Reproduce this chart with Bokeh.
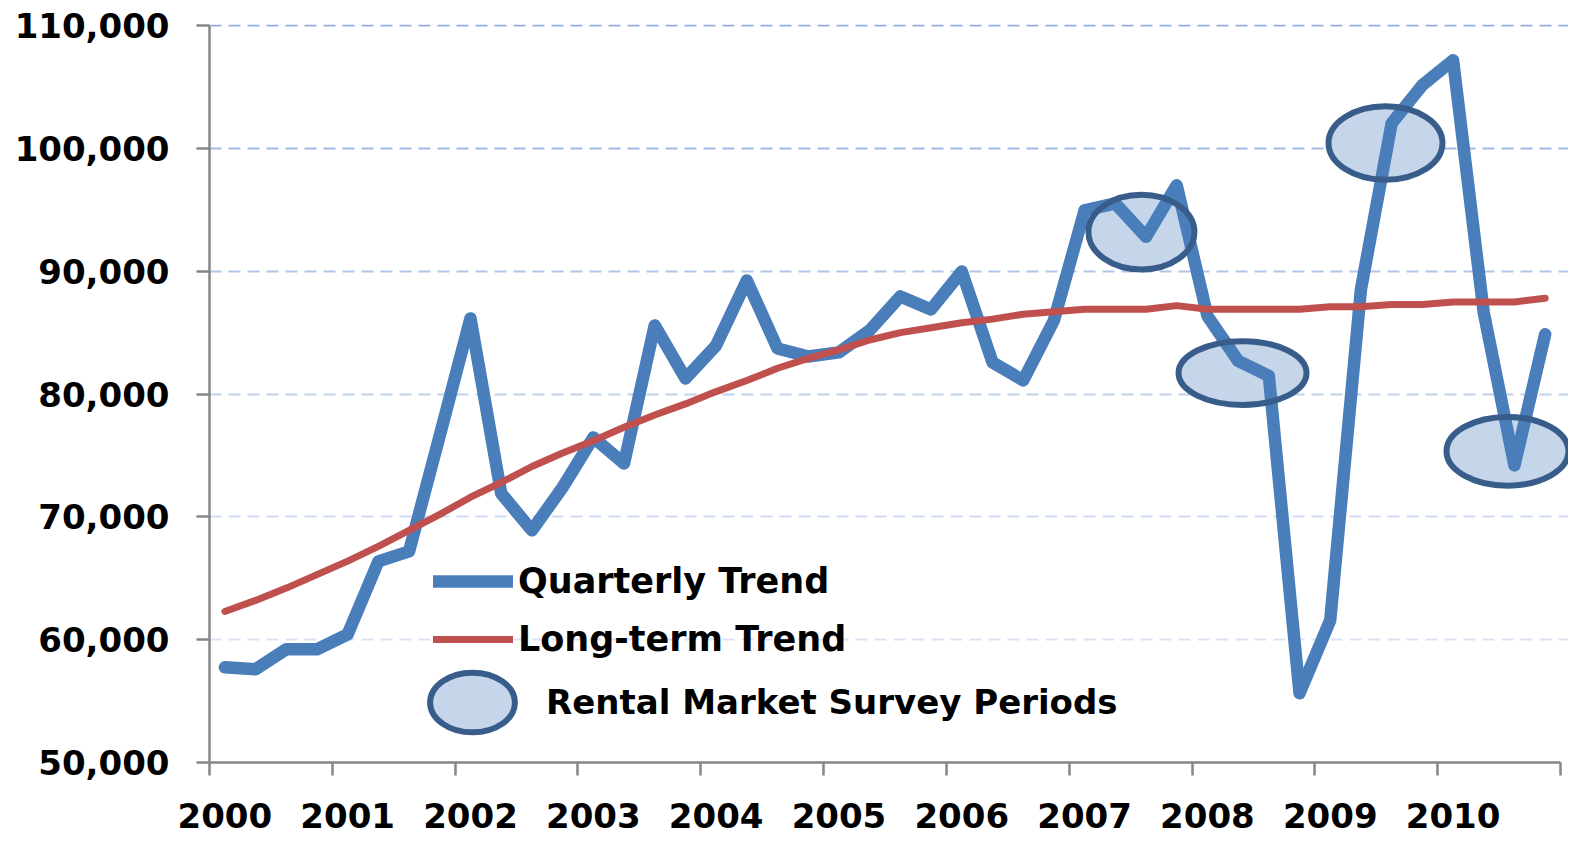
from bokeh.plotting import figure
from bokeh.models import (Range1d, FixedTicker, NumeralTickFormatter, Grid,
                          Legend, LegendItem)
from bokeh.embed import file_html
from bokeh.resources import INLINE

# ---------------- data ----------------
years = list(range(2000, 2011))
quarter_x = [y + q * 0.25 for y in range(2000, 2011) for q in range(4)]

quarterly = [57750, 57590, 59220, 59220, 60440, 66380, 67190, 76630,
             86160, 71910, 68900, 72400, 76470, 74350, 85590, 81270,
             83960, 89250, 83710, 83060, 83390, 85180, 87950, 86890,
             89980, 82580, 81110, 85990, 94950, 95520, 92800, 97000,
             86360, 82700, 81490, 55640, 61580, 88520, 102040, 105150,
             107180, 86630, 74190, 84870]

long_term = [62300, 63200, 64200, 65300, 66400, 67600, 68900, 70200,
             71600, 72800, 74100, 75200, 76200, 77300, 78300, 79200,
             80200, 81100, 82100, 82900, 83600, 84400, 85000, 85400,
             85800, 86100, 86500, 86700, 86900, 86900, 86900, 87200,
             86900, 86900, 86900, 86900, 87100, 87100, 87300, 87300,
             87500, 87500, 87500, 87800]

# survey period ellipses (x in years, y in values)
survey_x = [2007.463, 2008.286, 2009.450, 2010.443]
survey_y = [93190, 81710, 100440, 75340]
survey_w = [0.863, 1.042, 0.928, 0.993]
survey_h = [6080, 5190, 6000, 5600]

y_ticks = [50000, 60000, 70000, 80000, 90000, 100000, 110000]
grid_values = [110000, 100000, 90000, 80000, 70000, 60000]
grid_colors = ["#93afe2", "#a0b9e6", "#b0c5ea", "#c0d1ef", "#cfdbf3", "#d9e3f6"]

BLUE = "#4a7ebb"
RED = "#c0504d"
ELL_LINE = "#385d8a"
ELL_FILL = "#c5d5ea"
AXIS = "#868686"
FONT = "DejaVu Sans"

x_start = years[0] - 0.125
x_axis_end = years[-1] + 0.875

p = figure(width=1568, height=838, output_backend="svg", toolbar_location=None,
           x_range=Range1d(x_start, 2010.940), y_range=Range1d(50000, 110090),
           min_border_left=209, min_border_right=0, min_border_top=24,
           min_border_bottom=76)
p.outline_line_color = None
p.background_fill_color = "white"
p.border_fill_color = "white"
p.xgrid.visible = False
p.ygrid.visible = False

for v, c in zip(grid_values, grid_colors):
    g = Grid(dimension=1, ticker=FixedTicker(ticks=[v]), grid_line_color=c,
             grid_line_width=2, grid_line_dash="12 7")
    p.add_layout(g)

# ---------------- axes ----------------
xa = p.xaxis[0]
xa.ticker = FixedTicker(ticks=years,
                        minor_ticks=[y - 0.125 for y in years] + [x_axis_end])
xa.bounds = (x_start, x_axis_end)
xa.axis_line_color = AXIS
xa.axis_line_width = 2.5
xa.major_tick_out = 0
xa.major_tick_in = 0
xa.major_tick_line_color = None
xa.minor_tick_out = 13
xa.minor_tick_in = 0
xa.minor_tick_line_color = AXIS
xa.minor_tick_line_width = 2.5
xa.major_label_standoff = 27
xa.major_label_text_font = FONT
xa.major_label_text_font_style = "bold"
xa.major_label_text_font_size = "34px"
xa.major_label_text_color = "black"
xa.formatter = NumeralTickFormatter(format="0")

ya = p.yaxis[0]
ya.ticker = FixedTicker(ticks=y_ticks)
ya.formatter = NumeralTickFormatter(format="0,0")
ya.bounds = (50000, 110000)
ya.axis_line_color = AXIS
ya.axis_line_width = 2.5
ya.major_tick_out = 13
ya.major_tick_in = 0
ya.major_tick_line_color = AXIS
ya.major_tick_line_width = 2.5
ya.minor_tick_line_color = None
ya.major_label_standoff = 27
ya.major_label_text_font = FONT
ya.major_label_text_font_style = "bold"
ya.major_label_text_font_size = "34px"
ya.major_label_text_color = "black"

# ---------------- glyphs ----------------
ell_fill = p.ellipse(x=survey_x, y=survey_y, width=survey_w, height=survey_h,
                     fill_color=ELL_FILL, line_color=None)
blue_r = p.line(quarter_x, quarterly, line_color=BLUE, line_width=12.5,
                line_join="round", line_cap="round")
red_r = p.line(quarter_x, long_term, line_color=RED, line_width=7,
               line_join="round", line_cap="round")
ell_line = p.ellipse(x=survey_x, y=survey_y, width=survey_w, height=survey_h,
                     fill_color=None, line_color=ELL_LINE, line_width=6)

# ---------------- legends ----------------
leg1 = Legend(items=[LegendItem(label="Quarterly Trend", renderers=[blue_r]),
                     LegendItem(label="Long-term Trend", renderers=[red_r])],
              location=(224, 103), orientation="vertical",
              glyph_width=80, glyph_height=40, spacing=18, padding=0, margin=0,
              label_standoff=5, label_text_font=FONT,
              label_text_font_style="bold", label_text_font_size="35px",
              label_text_color="black", border_line_color=None,
              background_fill_alpha=0)
leg2 = Legend(items=[LegendItem(label="Rental Market Survey Periods",
                                renderers=[ell_fill, ell_line], index=0)],
              location=(210, 7), orientation="vertical",
              glyph_width=106, glyph_height=106, spacing=0, padding=0, margin=0,
              label_standoff=21, label_text_font=FONT,
              label_text_font_style="bold", label_text_font_size="34px",
              label_text_color="black", border_line_color=None,
              background_fill_alpha=0)
p.add_layout(leg1)
p.add_layout(leg2)

open("out.html", "w").write(file_html(p, INLINE))
